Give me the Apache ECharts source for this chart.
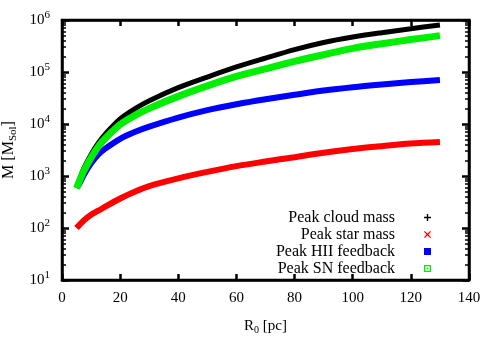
<!DOCTYPE html>
<html>
<head>
<meta charset="utf-8">
<script src="https://cdn.jsdelivr.net/npm/echarts@6/dist/echarts.min.js"></script>
<style>html,body{margin:0;padding:0;background:#fff}#c{width:500px;height:350px}</style>
</head>
<body>
<div id="c"></div>
<script>
// Data
const radius = [5, 6, 7.5, 10, 12.5, 15, 20, 25, 30, 40, 50, 60, 70, 80, 90, 100, 110, 120, 130];
const cloudMass = [600, 850, 1400, 2600, 4300, 6500, 12500, 19500, 28000, 50000, 80000, 125000, 185000, 270000, 370000, 470000, 570000, 680000, 800000];
const starMass = [100, 115, 140, 180, 215, 260, 370, 500, 640, 900, 1200, 1550, 1900, 2300, 2800, 3300, 3750, 4200, 4500];
const hiiFeedback = [590, 720, 1050, 1750, 2600, 3400, 5200, 7000, 8900, 13300, 18500, 24000, 30000, 36500, 44000, 51000, 57500, 64000, 70000];
const snFeedback = [580, 800, 1250, 2250, 3700, 5400, 9800, 14500, 20000, 34000, 54000, 82000, 115000, 160000, 215000, 285000, 350000, 420000, 500000];
const seriesNames = ['Peak cloud mass', 'Peak star mass', 'Peak HII feedback', 'Peak SN feedback'];
const yMinorTicks = [20,30,40,50,60,70,80,90,200,300,400,500,600,700,800,900,2000,3000,4000,5000,6000,7000,8000,9000,20000,30000,40000,50000,60000,70000,80000,90000,200000,300000,400000,500000,600000,700000,800000,900000];

const serif = 'Liberation Serif';
const pair = (ys) => radius.map((x, i) => [x, ys[i]]);
const chart = echarts.init(document.getElementById('c'), null, {renderer: 'canvas'});

const lineAx = () => ({show: true, onZero: false, lineStyle: {color: '#000', width: 2.5}});
const noLine = () => ({show: false, onZero: false});
const baseY = {type: 'log', min: 10, max: 1000000, logBase: 10, splitLine: {show: false}};

const mkSeries = (name, data, color, width) => ({
  name, type: 'line', data: pair(data), showSymbol: false, smooth: 0.3,
  xAxisIndex: 0, yAxisIndex: 0, color: color,
  lineStyle: {color: color, width: width, cap: 'butt'}, itemStyle: {color: color},
  animation: false
});

chart.setOption({
  animation: false,
  grid: {left: 62, right: 31, top: 20, bottom: 70, outerBoundsMode: 'none', containLabel: false,
         show: true, borderColor: '#000', borderWidth: 2.5, backgroundColor: 'transparent'},
  xAxis: [
    {type: 'value', min: 0, max: 140, interval: 20, position: 'bottom',
     axisLine: lineAx(), axisTick: {show: true, inside: true, length: 6, lineStyle: {color: '#000', width: 2.5}},
     splitLine: {show: false},
     axisLabel: {color: '#000', fontFamily: serif, fontSize: 15, margin: 11},
     name: 'R{sub|0} [pc]', nameLocation: 'middle', nameGap: 37,
     nameTextStyle: {color: '#000', fontFamily: serif, fontSize: 15,
       rich: {sub: {fontFamily: serif, fontSize: 10, verticalAlign: 'bottom', padding: [8, 0, 0, 0]}}}},
    {type: 'value', min: 0, max: 140, interval: 20, position: 'top',
     axisLine: lineAx(), axisTick: {show: true, inside: true, length: 6, lineStyle: {color: '#000', width: 2.5}},
     splitLine: {show: false}, axisLabel: {show: false}}
  ],
  yAxis: [
    Object.assign({}, baseY, {position: 'left',
     axisLine: lineAx(), axisTick: {show: true, inside: true, length: 7, lineStyle: {color: '#000', width: 2.5}},
     axisLabel: {color: '#000', fontFamily: serif, fontSize: 15, margin: 12,
       formatter: v => '10{sup|' + Math.round(Math.log10(v)) + '}',
       rich: {sup: {fontFamily: serif, fontSize: 11, verticalAlign: 'top', padding: [0, 0, 9, 0]}}},
     name: 'M [M{sub|Sol}]', nameLocation: 'middle', nameGap: 38,
     nameTextStyle: {color: '#000', fontFamily: serif, fontSize: 16,
       rich: {sub: {fontFamily: serif, fontSize: 11, padding: [8, 0, 0, 0]}}}}),
    Object.assign({}, baseY, {position: 'right',
     axisLine: lineAx(), axisTick: {show: true, inside: true, length: 7, lineStyle: {color: '#000', width: 2.5}},
     axisLabel: {show: false}}),
    Object.assign({}, baseY, {position: 'left',
     axisLine: noLine(),
     axisTick: {show: true, inside: true, length: 4, customValues: yMinorTicks, lineStyle: {color: '#000', width: 1.5}},
     axisLabel: {show: false}}),
    Object.assign({}, baseY, {position: 'right',
     axisLine: noLine(),
     axisTick: {show: true, inside: true, length: 4, customValues: yMinorTicks, lineStyle: {color: '#000', width: 1.5}},
     axisLabel: {show: false}})
  ],
  legend: {
    orient: 'vertical', align: 'right', right: 64, top: 204,
    itemWidth: 7, itemHeight: 7, itemGap: 0,
    textStyle: {color: '#000', fontFamily: serif, fontSize: 16, lineHeight: 17, padding: [0, 24, 0, 0]},
    data: [
      {name: seriesNames[0], icon: 'path://M0,2.8H7V4.2H0Z M2.8,0H4.2V7H2.8Z'},
      {name: seriesNames[1], icon: 'path://M0.8,0L3.5,2.5L6.2,0L7,0.8L4.5,3.5L7,6.2L6.2,7L3.5,4.5L0.8,7L0,6.2L2.5,3.5L0,0.8Z'},
      {name: seriesNames[2], icon: 'rect'},
      {name: seriesNames[3], icon: 'path://M0,0H7V7H0Z M1.3,1.3V5.7H5.7V1.3Z M2.7,2.7H4.3V4.3H2.7Z'}
    ]
  },
  series: [
    mkSeries(seriesNames[0], cloudMass, '#000000', 5),
    mkSeries(seriesNames[1], starMass, '#ff0000', 6),
    mkSeries(seriesNames[2], hiiFeedback, '#0000ff', 6),
    mkSeries(seriesNames[3], snFeedback, '#00ee00', 7)
  ]
});
</script>
</body>
</html>
